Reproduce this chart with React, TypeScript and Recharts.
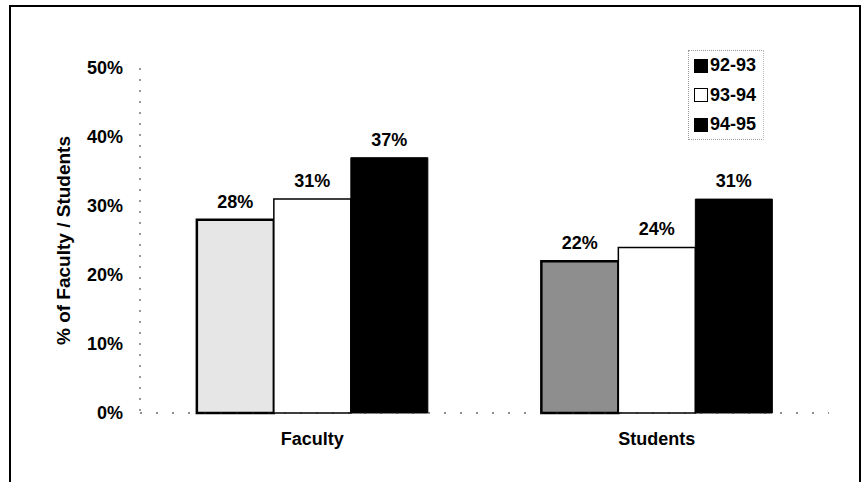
import React from 'react';
import { BarChart, Bar, XAxis, YAxis, Legend, LabelList, Cell } from 'recharts';

const categories = ['Faculty', 'Students'];
const series9293 = [28, 22];
const series9394 = [31, 24];
const series9495 = [37, 31];
const seriesNames = ['92-93', '93-94', '94-95'];
const yTicks = [0, 10, 20, 30, 40, 50];

const data = categories.map((c, i) => ({
  name: c,
  s1: series9293[i],
  s2: series9394[i],
  s3: series9495[i],
}));

const FONT = '"Liberation Sans", Arial, sans-serif';
const textStyle = { fontFamily: FONT, fontWeight: 700, fontSize: 18, fill: '#000' };
const pattern9293 = ['#e6e6e6', '#8e8e8e'];

const legendMarkers = [
  { fill: '#000', stroke: '#000' },
  { fill: '#fff', stroke: '#000' },
  { fill: '#000', stroke: '#000' },
];

const renderLegend = () => (
  <div
    style={{
      border: '1px dotted #999',
      borderRight: '1px dotted #bbb',
      padding: '0 0 0 5px',
      width: 76,
      height: 90,
      boxSizing: 'border-box',
      fontFamily: FONT,
      fontWeight: 700,
      fontSize: 18,
      color: '#000',
    }}
  >
    {seriesNames.map((n, i) => (
      <div key={n} style={{ display: 'flex', alignItems: 'center', height: 29.5 }}>
        <span
          style={{
            display: 'inline-block',
            width: 12,
            height: 12,
            background: legendMarkers[i].fill,
            border: `1.5px solid ${legendMarkers[i].stroke}`,
            marginRight: 2,
          }}
        />
        <span>{n}</span>
      </div>
    ))}
  </div>
);

export default function App() {
  return (
    <div style={{ position: 'absolute', left: 0, top: 0, width: 863, height: 482, background: '#fff', overflow: 'hidden' }}>
      <div
        style={{
          position: 'absolute',
          left: 9,
          top: 5,
          width: 852,
          height: 500,
          border: '2px solid #000',
          boxSizing: 'border-box',
        }}
      />
      <div style={{ position: 'absolute', left: 0, top: 0 }}>
        <BarChart
          width={863}
          height={482}
          data={data}
          margin={{ top: 68, right: 34, bottom: 0, left: 0 }}
          barCategoryGap="16.5%"
          barGap={0}
        >
          <XAxis
            dataKey="name"
            height={69}
            tickLine={false}
            tickSize={0}
            tickMargin={19}
            axisLine={{ stroke: '#222', strokeDasharray: '2 14' }}
            tick={textStyle}
          />
          <YAxis
            width={140}
            domain={[0, 50]}
            ticks={yTicks}
            tickFormatter={(v) => `${v}%`}
            tickLine={false}
            tickSize={0}
            tickMargin={17}
            axisLine={{ stroke: '#333', strokeDasharray: '2 9' }}
            tick={textStyle}
            label={{
              value: '% of Faculty / Students',
              angle: -90,
              position: 'insideLeft',
              offset: 63,
              style: { ...textStyle, fontSize: 19, textAnchor: 'middle' },
            }}
          />
          <Legend
            layout="vertical"
            align="center"
            verticalAlign="middle"
            content={renderLegend}
            wrapperStyle={{ position: 'absolute', left: 688, top: 50, width: 76, height: 90 }}
          />
          <Bar dataKey="s1" name={seriesNames[0]} stroke="#000" strokeWidth={2.5} isAnimationActive={false}>
            {data.map((d, i) => (
              <Cell key={d.name} fill={pattern9293[i]} />
            ))}
            <LabelList dataKey="s1" position="top" offset={12} formatter={(v) => `${v}%`} style={textStyle} />
          </Bar>
          <Bar dataKey="s2" name={seriesNames[1]} fill="#fff" stroke="#000" strokeWidth={1.5} isAnimationActive={false}>
            <LabelList dataKey="s2" position="top" offset={12} formatter={(v) => `${v}%`} style={textStyle} />
          </Bar>
          <Bar dataKey="s3" name={seriesNames[2]} fill="#000" stroke="#000" strokeWidth={1} isAnimationActive={false}>
            <LabelList dataKey="s3" position="top" offset={12} formatter={(v) => `${v}%`} style={textStyle} />
          </Bar>
        </BarChart>
      </div>
    </div>
  );
}
